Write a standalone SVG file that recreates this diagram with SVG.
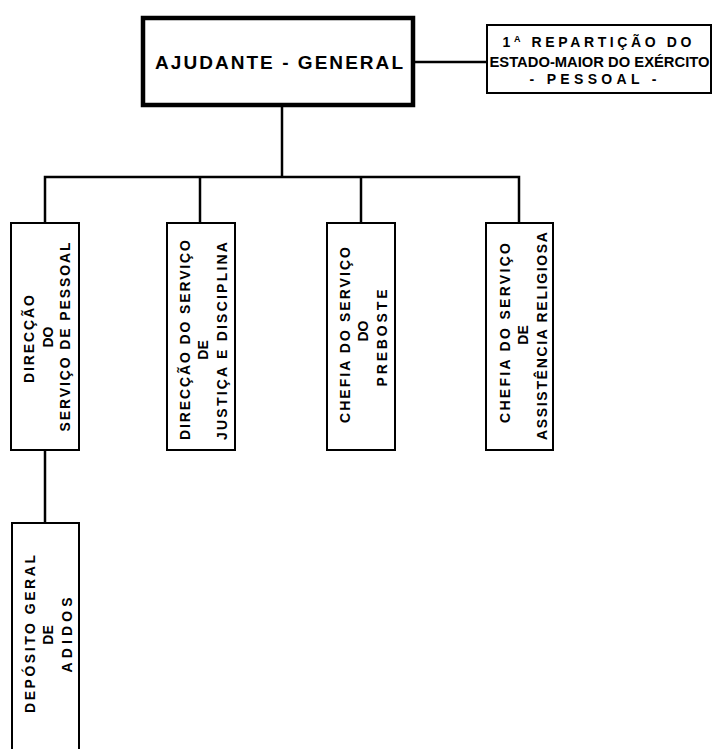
<svg xmlns="http://www.w3.org/2000/svg" width="713" height="749" viewBox="0 0 713 749">
<style>
.box{fill:#fff;stroke:#000;stroke-width:2}
.main{fill:#fff;stroke:#000;stroke-width:4.5}
.conn{fill:none;stroke:#000;stroke-width:2.5}
text{font-family:"Liberation Sans",Arial,sans-serif;font-weight:bold;fill:#000;text-anchor:middle}
.v{font-size:14px}
.s{font-size:14px}
</style>
<rect width="713" height="749" fill="#fff"/>
<g id="connectors">
<line class="conn" x1="413" y1="62" x2="487" y2="62"/>
<line class="conn" x1="282" y1="106" x2="282" y2="177"/>
<polyline class="conn" points="45,223 45,177 519,177 519,223"/>
<line class="conn" x1="200" y1="177" x2="200" y2="223"/>
<line class="conn" x1="361" y1="177" x2="361" y2="223"/>
<line class="conn" x1="45" y1="450" x2="45" y2="523"/>
</g>
<g id="ajudante-general">
<rect class="main" x="143" y="18" width="270" height="87"/>
<text x="279" y="69" font-size="19" textLength="248" lengthAdjust="spacing">AJUDANTE - GENERAL</text>
</g>
<g id="repartição">
<rect class="box" x="487" y="25" width="224" height="68"/>
<text class="s" x="597" y="47" textLength="189" lengthAdjust="spacing">1<tspan baseline-shift="super" font-size="9">A</tspan> REPARTIÇÃO  DO</text>
<text class="s" x="599.5" y="67" textLength="220" lengthAdjust="spacingAndGlyphs">ESTADO-MAIOR DO EXÉRCITO</text>
<text class="s" x="593" y="84" textLength="127" lengthAdjust="spacing">- PESSOAL -</text>
</g>
<g id="direccao-pessoal">
<rect class="box" x="11" y="223" width="68" height="227"/>
<text class="v" transform="translate(34,339) rotate(-90)" textLength="88" lengthAdjust="spacing">DIRECÇÃO</text>
<text class="v" transform="translate(53,337) rotate(-90)">DO</text>
<text class="v" transform="translate(70,337) rotate(-90)" textLength="189" lengthAdjust="spacing">SERVIÇO DE PESSOAL</text>
</g>
<g id="direccao-justica">
<rect class="box" x="167" y="223" width="68" height="227"/>
<text class="v" transform="translate(190,340) rotate(-90)" textLength="200" lengthAdjust="spacing">DIRECÇÃO DO SERVIÇO</text>
<text class="v" transform="translate(208,350) rotate(-90)">DE</text>
<text class="v" transform="translate(227,341) rotate(-90)" textLength="198" lengthAdjust="spacing">JUSTIÇA  E  DISCIPLINA</text>
</g>
<g id="chefia-preboste">
<rect class="box" x="327" y="223" width="68" height="227"/>
<text class="v" transform="translate(350,335) rotate(-90)" textLength="176" lengthAdjust="spacing">CHEFIA DO SERVIÇO</text>
<text class="v" transform="translate(368,331) rotate(-90)">DO</text>
<text class="v" transform="translate(387,338) rotate(-90)" textLength="97" lengthAdjust="spacing">PREBOSTE</text>
</g>
<g id="chefia-assistencia">
<rect class="box" x="486" y="223" width="67" height="227"/>
<text class="v" transform="translate(510,333) rotate(-90)" textLength="180" lengthAdjust="spacing">CHEFIA DO SERVIÇO</text>
<text class="v" transform="translate(528,335) rotate(-90)">DE</text>
<text class="v" transform="translate(547,336) rotate(-90)" textLength="208" lengthAdjust="spacing">ASSISTÊNCIA  RELIGIOSA</text>
</g>
<g id="deposito-adidos">
<rect class="box" x="12" y="523" width="67" height="240"/>
<text class="v" transform="translate(35,634) rotate(-90)" textLength="158" lengthAdjust="spacing">DEPÓSITO  GERAL</text>
<text class="v" transform="translate(53,635) rotate(-90)">DE</text>
<text class="v" transform="translate(72,635) rotate(-90)" textLength="75" lengthAdjust="spacing">ADIDOS</text>
</g>
</svg>
